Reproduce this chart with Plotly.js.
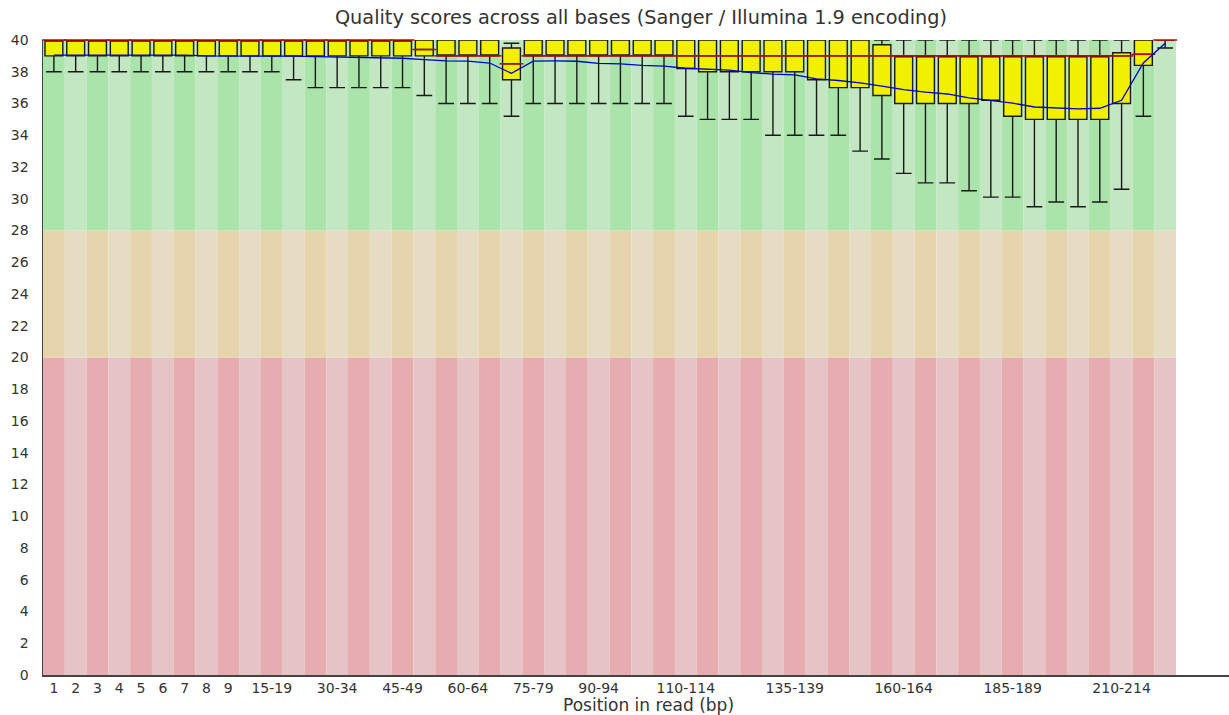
<!DOCTYPE html>
<html>
<head>
<meta charset="utf-8">
<script src="https://cdn.plot.ly/plotly-3.0.1.min.js"></script>
<style>html,body{margin:0;padding:0;background:#fff;}</style>
</head>
<body>
<div id="chart" style="width:1229px;height:715px;"></div>
<script>
// Positions in read (FastQC bins)
const categories = ["1","2","3","4","5","6","7","8","9",
  "10-14","15-19","20-24","25-29","30-34","35-39","40-44","45-49","50-54","55-59",
  "60-64","65-69","70-74","75-79","80-84","85-89","90-94","95-99","100-104","105-109",
  "110-114","115-119","120-124","125-129","130-134","135-139","140-144","145-149","150-154","155-159",
  "160-164","165-169","170-174","175-179","180-184","185-189","190-194","195-199","200-204","205-209",
  "210-214","215-219","220-224"];

// 10th percentile (lower whisker)
const lowerWhisker = [38,38,38,38,38,38,38,38,38,
  38,38,37.5,37,37,37,37,37,36.5,36,
  36,36,35.2,36,36,36,36,36,36,36,
  35.2,35,35,35,34,34,34,34,33,32.5,
  31.6,31,31,30.5,30.1,30.1,29.5,29.8,29.5,29.8,
  30.6,35.2,39.5];

// Lower quartile
const lowerQuartile = [39,39,39,39,39,39,39,39,39,
  39,39,39,39,39,39,39,39,39,39,
  39,39,37.5,39,39,39,39,39,39,39,
  38.2,38,38,38,38,38,37.5,37,37,36.5,
  36,36,36,36,36.2,35.2,35,35,35,35,
  36,38.4,40];

// Median
const medianValues = [40,40,40,40,40,40,40,40,40,
  40,40,40,40,40,40,40,40,39.4,39,
  39,39,38.5,39,39,39,39,39,39,39,
  39,39,39,39,39,39,39,39,39,39,
  39,39,39,39,39,39,39,39,39,39,
  39,39.1,40];

// Upper quartile
const upperQuartile = [40,40,40,40,40,40,40,40,40,
  40,40,40,40,40,40,40,40,40,40,
  40,40,39.5,40,40,40,40,40,40,40,
  40,40,40,40,40,40,40,40,40,39.7,
  39,39,39,39,39,39,39,39,39,39,
  39.2,40,40];

// 90th percentile (upper whisker)
const upperWhisker = [40,40,40,40,40,40,40,40,40,
  40,40,40,40,40,40,40,40,40,40,
  40,40,39.8,40,40,40,40,40,40,40,
  40,40,40,40,40,40,40,40,40,40,
  40,40,40,40,40,40,40,40,40,40,
  40,40,40];

// Mean quality
const meanValues = [39.05,39.05,39.05,39.05,39.05,39.05,39.05,39.0,39.0,
  39.0,39.0,38.98,38.95,38.92,38.9,38.88,38.85,38.76,38.68,
  38.67,38.55,37.9,38.67,38.68,38.66,38.53,38.5,38.4,38.35,
  38.22,38.17,38.1,37.95,37.85,37.8,37.55,37.45,37.3,37.1,
  36.88,36.72,36.6,36.35,36.2,36.02,35.78,35.7,35.66,35.7,
  36.2,38.55,39.8];

// Tick labels shown on the x axis
const shownTicks = ["1","2","3","4","5","6","7","8","9","15-19","30-34","45-49","60-64",
  "75-79","90-94","110-114","135-139","160-164","185-189","210-214"];

// Quality zone thresholds and colours
const zoneLimits = [0, 20, 28, 40];
const zoneColorsDark = ["rgb(230,172,175)", "rgb(230,213,172)", "rgb(170,228,170)"];
const zoneColorsLight = ["rgb(230,195,196)", "rgb(230,220,195)", "rgb(195,230,195)"];

const shapes = [];
categories.forEach((c, i) => {
  const cols = (i % 2 === 0) ? zoneColorsDark : zoneColorsLight;
  for (let z = 0; z < 3; z++) {
    shapes.push({
      type: "rect", xref: "x", yref: "y", layer: "below",
      x0: i - 0.5, x1: i + 0.5, y0: zoneLimits[z], y1: zoneLimits[z + 1],
      fillcolor: cols[z], line: {width: 0}
    });
  }
});

const boxTrace = {
  type: "box",
  x: categories,
  q1: lowerQuartile,
  median: medianValues,
  q3: upperQuartile,
  lowerfence: lowerWhisker,
  upperfence: upperWhisker,
  fillcolor: "rgb(240,240,0)",
  line: {color: "rgb(25,25,25)", width: 1.4},
  whiskerwidth: 0.88,
  boxpoints: false,
  showlegend: false,
  hoverinfo: "skip"
};

const medianTrace = {
  type: "scatter", mode: "markers",
  x: categories, y: medianValues,
  marker: {symbol: "line-ew", size: 17, color: "rgb(200,0,0)", line: {color: "rgb(200,0,0)", width: 1.5}},
  cliponaxis: false, showlegend: false, hoverinfo: "skip"
};

const meanTrace = {
  type: "scatter", mode: "lines",
  x: categories, y: meanValues,
  line: {color: "rgb(0,0,200)", width: 1.3},
  showlegend: false, hoverinfo: "skip"
};

const axisFont = {family: "DejaVu Sans, sans-serif", size: 14, color: "#333"};

const layout = {
  width: 1229, height: 715,
  margin: {l: 43, r: 0, t: 40, b: 40},
  paper_bgcolor: "#fff", plot_bgcolor: "#fff",
  showlegend: false,
  boxgap: 0.18, boxgroupgap: 0,
  title: {
    text: "Quality scores across all bases (Sanger / Illumina 1.9 encoding)",
    font: {family: "DejaVu Sans, sans-serif", size: 19.3, color: "#333"},
    x: 641 / 1229, xanchor: "center", xref: "container",
    y: 1 - 17 / 715, yanchor: "middle", yref: "container"
  },
  xaxis: {
    type: "category",
    categoryorder: "array", categoryarray: categories,
    range: [-0.5, categories.length - 0.5 + 2.43],
    tickvals: shownTicks, ticktext: shownTicks,
    ticks: "", showgrid: false, zeroline: false,
    showline: true, linecolor: "#444", linewidth: 1.5,
    tickfont: axisFont,
    title: {text: ""}
  },
  yaxis: {
    range: [0, 40], dtick: 2, tick0: 0,
    ticks: "", showgrid: false, zeroline: false,
    showline: true, linecolor: "#444", linewidth: 1.5,
    tickfont: axisFont, ticklabelstandoff: 10
  },
  annotations: [{
    text: "Position in read (bp)",
    xref: "paper", yref: "paper",
    x: (648 - 43) / 1186, y: -(705 - 675) / 635,
    xanchor: "center", yanchor: "middle", showarrow: false,
    font: {family: "DejaVu Sans, sans-serif", size: 17, color: "#333"}
  }],
  shapes: shapes
};

Plotly.newPlot("chart", [boxTrace, medianTrace, meanTrace], layout, {displayModeBar: false, staticPlot: true});
</script>
</body>
</html>
